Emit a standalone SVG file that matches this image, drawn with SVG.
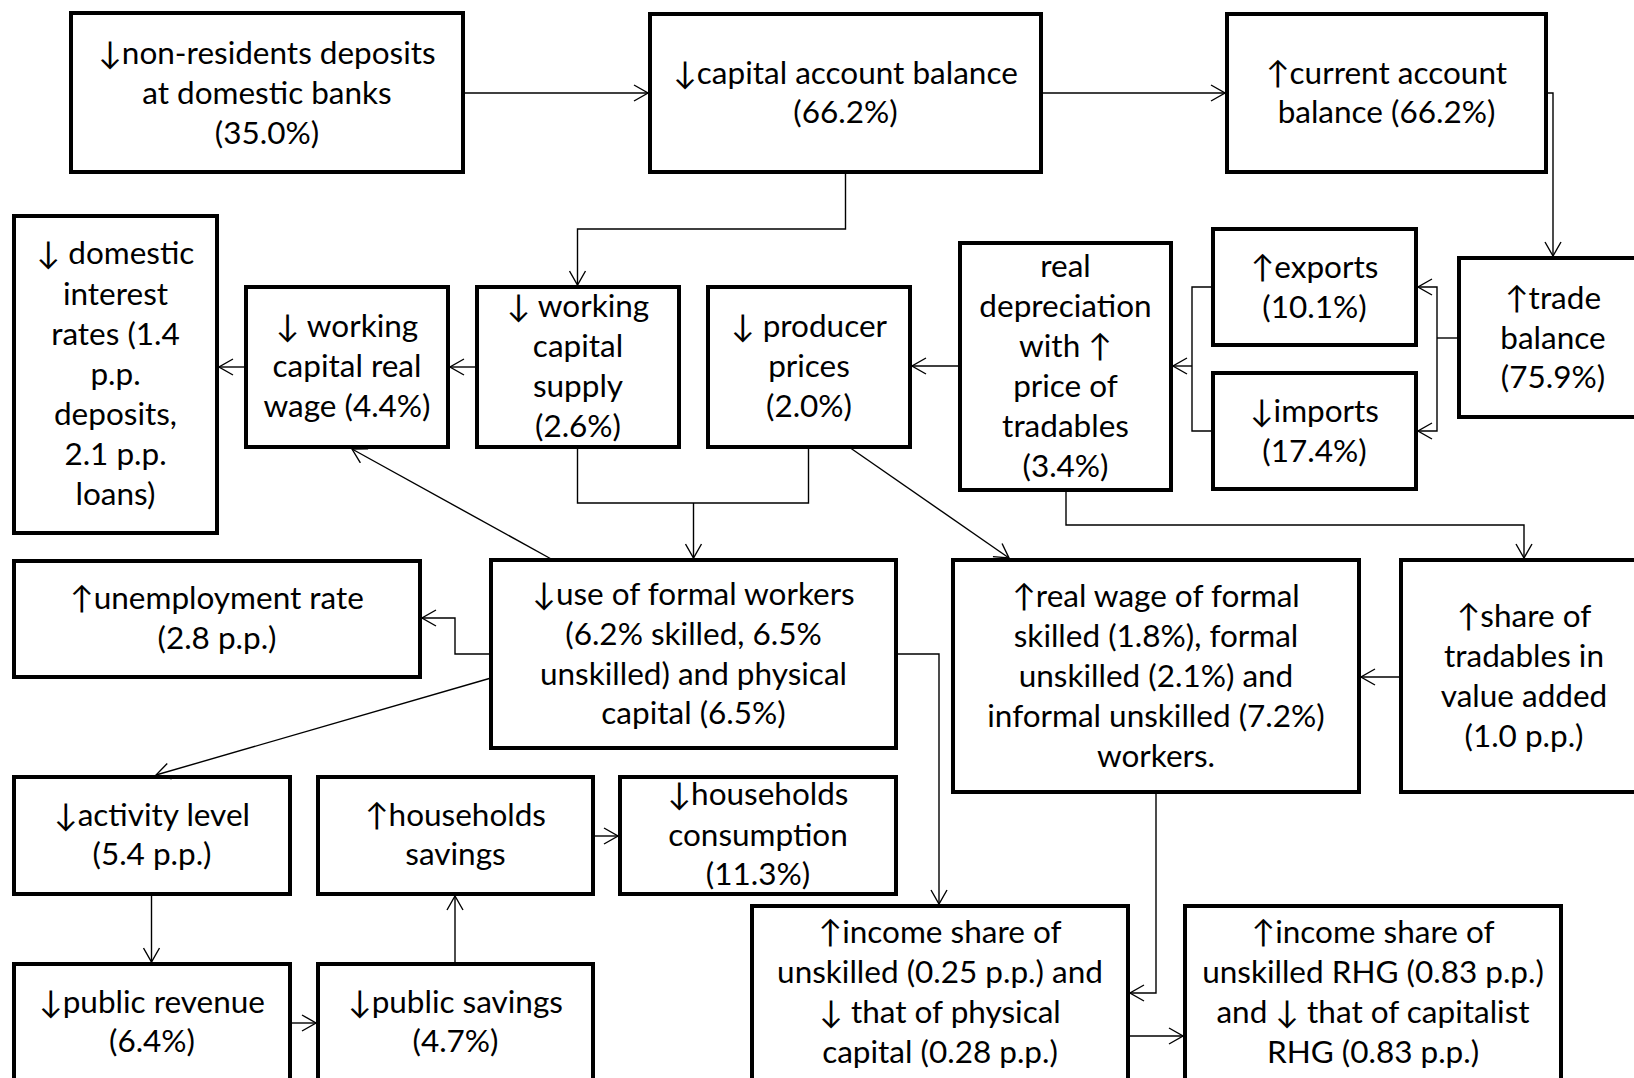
<svg xmlns="http://www.w3.org/2000/svg" width="1634" height="1078" viewBox="0 0 1634 1078">
<style>
.box{fill:#fff;stroke:#000;stroke-width:4}
.t{font-family:Lato,"Liberation Sans",sans-serif;font-size:31.5px;text-anchor:middle;fill:#000}
.c{fill:none;stroke:#000;stroke-width:1.4}
.a{marker-end:url(#ah)}
</style>
<defs>
<marker id="ah" markerUnits="userSpaceOnUse" viewBox="0 0 16 18" refX="15" refY="9" markerWidth="16" markerHeight="18" orient="auto">
<path d="M1,1 L15,9 L1,17" fill="none" stroke="#000" stroke-width="1.4"/>
</marker>
</defs>
<rect width="1634" height="1078" fill="#fff"/>
<g id="nodes">
<g id="nonres"><rect class="box" x="71" y="13" width="392" height="159"/>
<text class="t" x="267" y="64">↓non-residents deposits</text><text class="t" x="267" y="104">at domestic banks</text><text class="t" x="267" y="144">(35.0%)</text></g>
<g id="capital"><rect class="box" x="650" y="14" width="391" height="158"/>
<text class="t" x="845.5" y="84">↓capital account balance</text><text class="t" x="845.5" y="123">(66.2%)</text></g>
<g id="current"><rect class="box" x="1227" y="14" width="319" height="158"/>
<text class="t" x="1386.5" y="84">↑current account</text><text class="t" x="1386.5" y="123">balance (66.2%)</text></g>
<g id="domestic"><rect class="box" x="14" y="216" width="203" height="317"/>
<text class="t" x="115.5" y="264">↓ domestic</text><text class="t" x="115.5" y="305">interest</text><text class="t" x="115.5" y="345">rates (1.4</text><text class="t" x="115.5" y="385">p.p.</text><text class="t" x="115.5" y="425">deposits,</text><text class="t" x="115.5" y="465">2.1 p.p.</text><text class="t" x="115.5" y="505">loans)</text></g>
<g id="wcrw"><rect class="box" x="246" y="287" width="202" height="160"/>
<text class="t" x="347" y="337">↓ working</text><text class="t" x="347" y="377">capital real</text><text class="t" x="347" y="417">wage (4.4%)</text></g>
<g id="wcs"><rect class="box" x="477" y="287" width="202" height="160"/>
<text class="t" x="578" y="317">↓ working</text><text class="t" x="578" y="357">capital</text><text class="t" x="578" y="397">supply</text><text class="t" x="578" y="437">(2.6%)</text></g>
<g id="pp"><rect class="box" x="708" y="287" width="202" height="160"/>
<text class="t" x="809" y="337">↓ producer</text><text class="t" x="809" y="377">prices</text><text class="t" x="809" y="417">(2.0%)</text></g>
<g id="realdep"><rect class="box" x="960" y="243" width="211" height="247"/>
<text class="t" x="1065.5" y="277">real</text><text class="t" x="1065.5" y="317">depreciation</text><text class="t" x="1065.5" y="357">with ↑</text><text class="t" x="1065.5" y="397">price of</text><text class="t" x="1065.5" y="437">tradables</text><text class="t" x="1065.5" y="477">(3.4%)</text></g>
<g id="exports"><rect class="box" x="1213" y="229" width="203" height="116"/>
<text class="t" x="1314.5" y="278">↑exports</text><text class="t" x="1314.5" y="318">(10.1%)</text></g>
<g id="imports"><rect class="box" x="1213" y="373" width="203" height="116"/>
<text class="t" x="1314.5" y="422">↓imports</text><text class="t" x="1314.5" y="462">(17.4%)</text></g>
<g id="trade"><rect class="box" x="1459" y="258" width="188" height="159"/>
<text class="t" x="1553" y="309">↑trade</text><text class="t" x="1553" y="349">balance</text><text class="t" x="1553" y="388">(75.9%)</text></g>
<g id="unemp"><rect class="box" x="14" y="561" width="406" height="116"/>
<text class="t" x="217" y="609">↑unemployment rate</text><text class="t" x="217" y="649">(2.8 p.p.)</text></g>
<g id="useformal"><rect class="box" x="491" y="560" width="405" height="188"/>
<text class="t" x="693.5" y="605">↓use of formal workers</text><text class="t" x="693.5" y="645">(6.2% skilled, 6.5%</text><text class="t" x="693.5" y="685">unskilled) and physical</text><text class="t" x="693.5" y="724">capital (6.5%)</text></g>
<g id="realwage"><rect class="box" x="953" y="560" width="406" height="232"/>
<text class="t" x="1156" y="607">↑real wage of formal</text><text class="t" x="1156" y="647">skilled (1.8%), formal</text><text class="t" x="1156" y="687">unskilled (2.1%) and</text><text class="t" x="1156" y="727">informal unskilled (7.2%)</text><text class="t" x="1156" y="767">workers.</text></g>
<g id="share"><rect class="box" x="1401" y="560" width="246" height="232"/>
<text class="t" x="1524" y="627">↑share of</text><text class="t" x="1524" y="667">tradables in</text><text class="t" x="1524" y="707">value added</text><text class="t" x="1524" y="747">(1.0 p.p.)</text></g>
<g id="activity"><rect class="box" x="14" y="777" width="276" height="117"/>
<text class="t" x="152" y="826">↓activity level</text><text class="t" x="152" y="865">(5.4 p.p.)</text></g>
<g id="hsavings"><rect class="box" x="318" y="777" width="275" height="117"/>
<text class="t" x="455.5" y="826">↑households</text><text class="t" x="455.5" y="865">savings</text></g>
<g id="consumption"><rect class="box" x="620" y="777" width="276" height="117"/>
<text class="t" x="758" y="805">↓households</text><text class="t" x="758" y="846">consumption</text><text class="t" x="758" y="885">(11.3%)</text></g>
<g id="incunsk"><rect class="box" x="752" y="906" width="376" height="190"/>
<text class="t" x="940" y="943">↑income share of</text><text class="t" x="940" y="983">unskilled (0.25 p.p.) and</text><text class="t" x="940" y="1023">↓ that of physical</text><text class="t" x="940" y="1063">capital (0.28 p.p.)</text></g>
<g id="rhg"><rect class="box" x="1185" y="906" width="376" height="190"/>
<text class="t" x="1373" y="943">↑income share of</text><text class="t" x="1373" y="983">unskilled RHG (0.83 p.p.)</text><text class="t" x="1373" y="1023">and ↓ that of capitalist</text><text class="t" x="1373" y="1063">RHG (0.83 p.p.)</text></g>
<g id="pubrev"><rect class="box" x="14" y="964" width="276" height="130"/>
<text class="t" x="152" y="1013">↓public revenue</text><text class="t" x="152" y="1052">(6.4%)</text></g>
<g id="pubsav"><rect class="box" x="318" y="964" width="275" height="130"/>
<text class="t" x="455.5" y="1013">↓public savings</text><text class="t" x="455.5" y="1052">(4.7%)</text></g>
</g>
<g id="connectors">
<path class="c a" d="M463,93 H648"/>
<path class="c a" d="M1041,93 H1225"/>
<path class="c a" d="M1546,93 H1553 V256"/>
<path class="c a" d="M845.5,172 V229 H577.5 V285"/>
<path class="c" d="M1459,338 H1437"/>
<path class="c a" d="M1437,338 V287 H1418"/>
<path class="c a" d="M1437,338 V431 H1418"/>
<path class="c" d="M1213,287 H1192 V431 H1213"/>
<path class="c a" d="M1192,366 H1173"/>
<path class="c a" d="M960,366 H912"/>
<path class="c a" d="M477,367 H450"/>
<path class="c a" d="M246,367 H219"/>
<path class="c" d="M577.5,447 V503 H808.5 V447"/>
<path class="c a" d="M693.5,503 V558"/>
<path class="c a" d="M849,447 L1009,558"/>
<path class="c a" d="M553,560 L352,449"/>
<path class="c a" d="M491,654 H455 V618 H422"/>
<path class="c a" d="M491,678 L156,775"/>
<path class="c a" d="M896,654 H939 V904"/>
<path class="c a" d="M1066,490 V525 H1524 V558"/>
<path class="c a" d="M1401,677 H1361"/>
<path class="c a" d="M1156,792 V993 H1130"/>
<path class="c a" d="M1128,1036 H1183"/>
<path class="c a" d="M151.5,894 V962"/>
<path class="c a" d="M290,1023 H316"/>
<path class="c a" d="M455,964 V896"/>
<path class="c a" d="M593,836 H618"/>
</g>
</svg>
